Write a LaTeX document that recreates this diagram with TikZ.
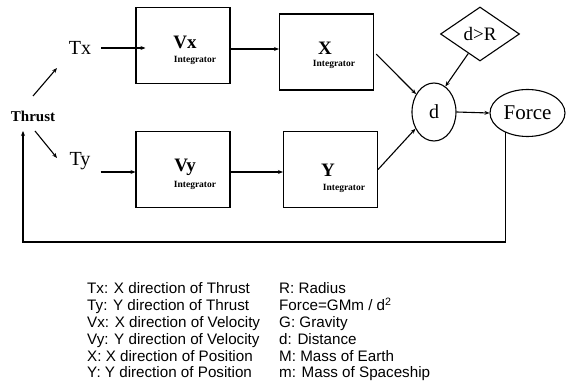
\documentclass[tikz,border=0pt]{standalone}
\usepackage{fontspec}
\setmainfont{Liberation Serif}
\newfontfamily\legendfont{Liberation Sans}
\usetikzlibrary{shapes.geometric,arrows.meta}
\begin{document}
\begin{tikzpicture}[x=1pt,y=-1pt,
  blk/.style={draw,line width=1.1pt,minimum width=94pt,minimum height=76pt,inner sep=0pt},
  ell/.style={draw,line width=1.1pt,ellipse,inner sep=0pt},
  arr/.style={draw,line width=1.1pt,-{Stealth[length=5pt,width=4pt]}},
  txt/.style={inner sep=0pt},
  big/.style={txt,font=\fontsize{20}{20}\selectfont},
  bigb/.style={txt,font=\bfseries\fontsize{19}{19}\selectfont},
  integ/.style={txt,font=\bfseries\fontsize{9.5}{9.5}\selectfont},
  leg/.style={txt,anchor=base west,font=\legendfont\fontsize{15.2}{15.2}\selectfont}]
\useasboundingbox (0,0) rectangle (566,387);
% boxes
\node[blk] (Vx) at (183,45.5) {};
\node[blk] (X) at (326.5,52) {};
\node[blk] (Vy) at (183,169.5) {};
\node[blk] (Y) at (330.5,169.5) {};
\node[bigb] (Vxt) at (185,42) {Vx};
\node[integ] (Vxi) at (195,60) {Integrator};
\node[bigb] (Xt) at (325,48) {X};
\node[integ] (Xi) at (334,64) {Integrator};
\node[bigb] (Vyt) at (185,167) {Vy};
\node[integ] (Vyi) at (195,185) {Integrator};
\node[bigb] (Yt) at (328,170) {Y};
\node[integ] (Yi) at (344,188) {Integrator};
% labels
\node[big] (Tx) at (80,48) {Tx};
\node[big] (Ty) at (80,161) {Ty};
\node[txt,font=\bfseries\fontsize{15}{15}\selectfont] (Thrust) at (33,116) {Thrust};
% ellipses and diamond
\node[ell,minimum width=44pt,minimum height=58pt,font=\fontsize{20}{20}\selectfont] (d) at (434,112) {d};
\node[ell,minimum width=75pt,minimum height=47pt,font=\fontsize{21}{21}\selectfont] (F) at (527.5,113) {Force};
\node[draw,line width=1.1pt,diamond,inner sep=0pt,minimum width=79pt,minimum height=54pt,font=\fontsize{19}{19}\selectfont] (dR) at (480,34) {d>R};
% coordinates
\coordinate (t1) at (33,96);
\coordinate (t2) at (57,68);
\coordinate (t3) at (35,131);
\coordinate (t4) at (57,158);
\coordinate (fb) at (23,242);
\coordinate (fbe) at (23,131);
% arrows
\draw[arr] (t1) -- (t2);
\draw[arr] (t3) -- (t4);
\draw[arr] ([xshift=10pt]Tx.east) -- ([xshift=10pt]Tx.east -| Vx.west);
\draw[arr] ([xshift=10pt]Ty.east |- 0,172) -- (Vy.west |- 0,172);
\draw[arr] (Vx.east |- 0,49) -- (X.west |- 0,49);
\draw[arr] (Vy.east |- 0,172) -- (Y.west |- 0,172);
\draw[arr,shorten <=3pt] (X.east) -- (d.135);
\draw[arr] (Y.east) -- (d.222);
\draw[arr] (dR.239) -- (d.66);
\draw[arr] (d.east) -- (F.west);
\draw[arr] (F.221) |- (fb) -- (fbe);
% legend
\node[leg] (l1) at (87,294) {Tx: X direction of Thrust};
\node[leg] (l2) at (87,311) {Ty: Y direction of Thrust};
\node[leg] (l3) at (87,328) {Vx: X direction of Velocity};
\node[leg] (l4) at (87,345) {Vy: Y direction of Velocity};
\node[leg] (l5) at (87,361.5) {X: X direction of Position};
\node[leg] (l6) at (87,378) {Y: Y direction of Position};
\node[leg] (r1) at (279,294) {R: Radius};
\node[leg] (r2) at (279,311) {Force=GMm / d\textsuperscript{2}};
\node[leg] (r3) at (279,328) {G: Gravity};
\node[leg] (r4) at (279,345) {d: Distance};
\node[leg] (r5) at (279,361.5) {M: Mass of Earth};
\node[leg] (r6) at (279,378) {m: Mass of Spaceship};
\end{tikzpicture}
\end{document}
